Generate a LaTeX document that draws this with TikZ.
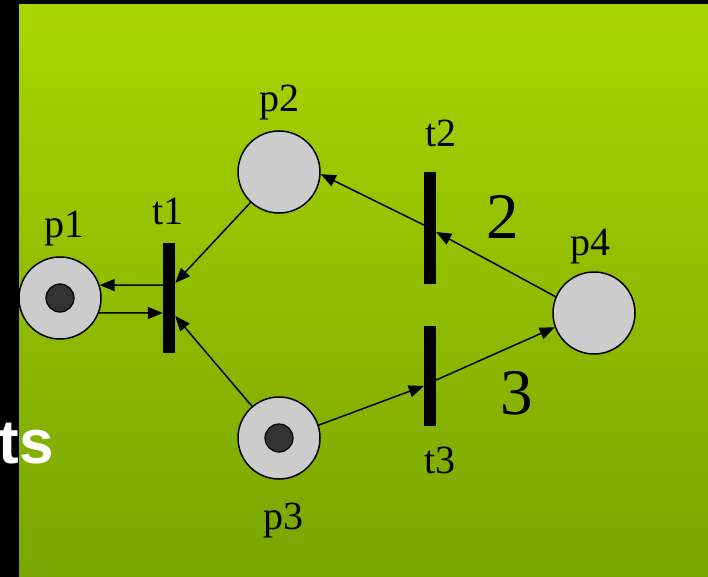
\documentclass[tikz,border=0pt]{standalone}
\usepackage{fontspec}
\setmainfont{Liberation Serif}
\newfontfamily\slidesans{Liberation Sans}
\usetikzlibrary{arrows.meta}
\definecolor{slidetop}{HTML}{AAD400}
\definecolor{slidebottom}{HTML}{78A500}
\definecolor{placegray}{HTML}{CCCCCC}
\definecolor{tokengray}{HTML}{333333}

\begin{document}
\begin{tikzpicture}[x=1pt, y=-1pt,
  place/.style={circle, draw=black, line width=1.5pt, fill=placegray,
                minimum size=82pt, inner sep=0pt},
  token/.style={circle, draw=black, line width=1.2pt, fill=tokengray,
                minimum size=28pt, inner sep=0pt},
  trans/.style={rectangle, fill=black, minimum width=12pt,
                minimum height=110pt, inner sep=0pt},
  lbl/.style={font=\fontsize{40}{40}\selectfont, inner sep=0pt},
  weight/.style={font=\fontsize{65}{65}\selectfont, inner sep=0pt},
  arr/.style={-{Triangle[length=15pt,width=12pt]}, line width=1.5pt, black}
]

% slide background
\useasboundingbox (0,0) rectangle (708,577);
\fill[black] (0,0) rectangle (708,577);
\shade[top color=slidetop, bottom color=slidebottom] (19,5) rectangle (708,577);
\node[font=\slidesans\bfseries\fontsize{62}{62}\selectfont, text=white,
      anchor=base east, inner sep=0pt] (tstxt) at (54,463) {ts};

% places and transitions
\node[place] (p1) at (60,298) {};
\node[token] (tok1) at (p1) {};
\node[trans] (t1) at (169,298) {};
\node[place] (p2) at (279,172) {};
\node[trans, minimum height=112pt] (t2) at (430,228) {};
\node[trans, minimum height=100pt] (t3) at (430,376) {};
\node[place] (p3) at (279,438) {};
\node[token] (tok3) at (p3) {};
\node[place] (p4) at (594,313) {};

% labels
\node[lbl] (p1lbl) at (64,229) {p1};
\node[lbl] (t1lbl) at (168,211) {t1};
\node[lbl] (p2lbl) at (279,103) {p2};
\node[lbl] (t2lbl) at (441,133) {t2};
\node[lbl] (p4lbl) at (590,247) {p4};
\node[lbl] (t3lbl) at (440,460) {t3};
\node[lbl] (p3lbl) at (283,521) {p3};
\node[weight] (w2) at (503,217) {2};
\node[weight] (w3) at (517,393) {3};

% arcs
\draw[arr] ([yshift=13pt]t1.west) -- (p1.18);
\draw[arr] (p1.-21) -- ([yshift=-15pt]t1.west);
\draw[arr] (p2) -- ([yshift=15pt]t1.east);
\draw[arr] (p3) -- ([yshift=-18pt]t1.east);
\draw[arr] (p4.157) -- ([yshift=-4pt]t2.east);
\draw[arr] (t2) -- (p2.-3);
\draw[arr] (p3.18) -- ([yshift=-10pt]t3.west);
\draw[arr] ([yshift=-4pt]t3.east) -- (p4.200);

\end{tikzpicture}
\end{document}
